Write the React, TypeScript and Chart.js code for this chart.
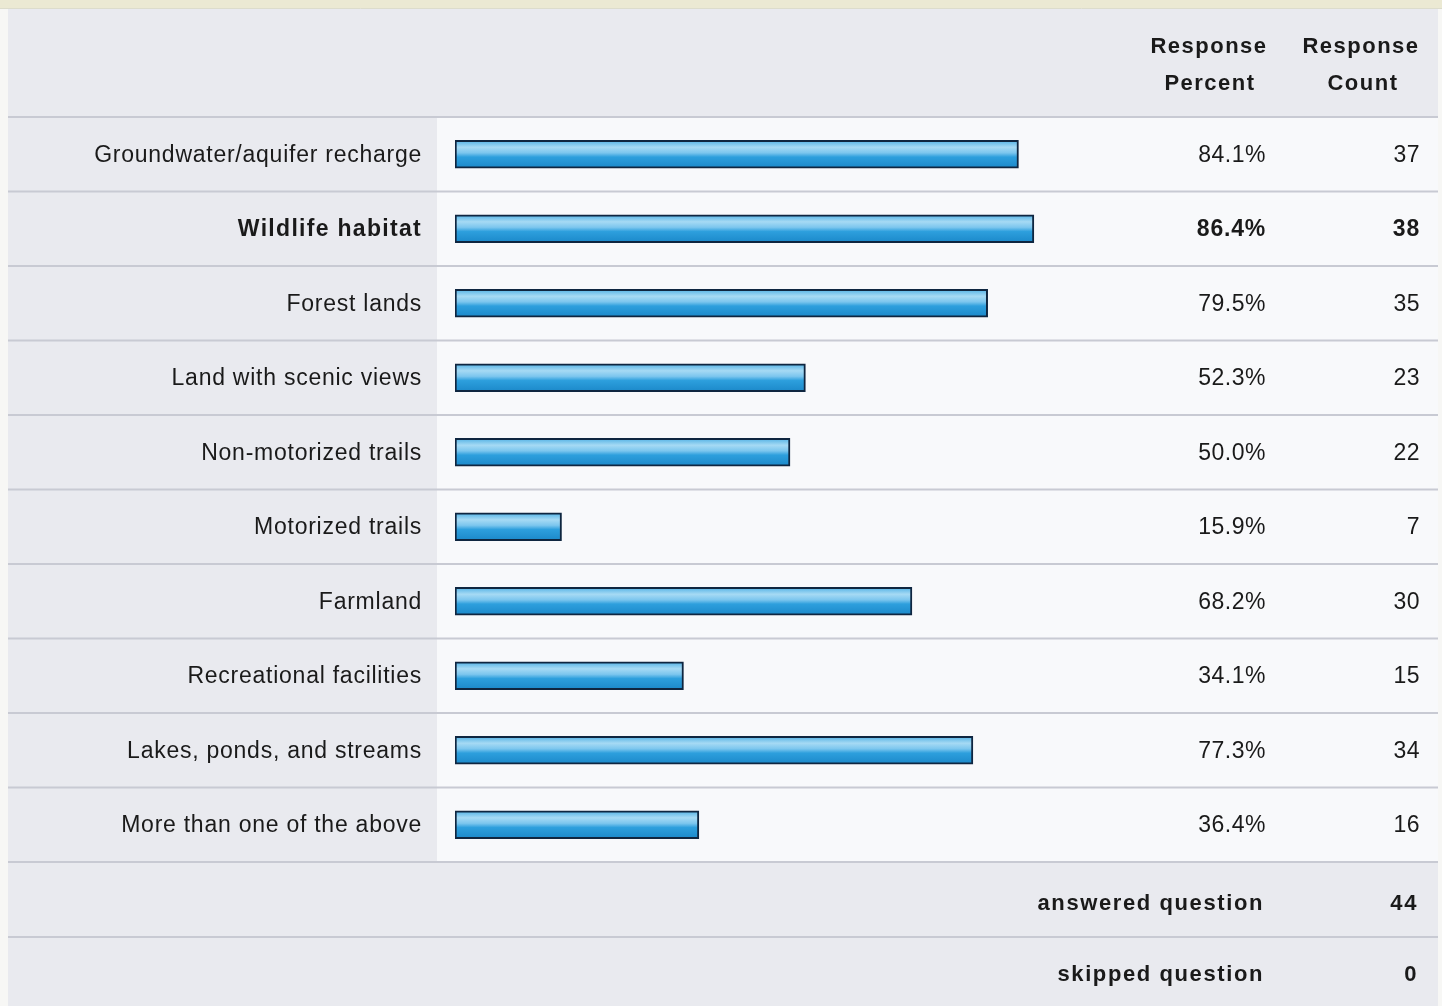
import React, { useEffect, useRef } from "react";
import { Chart, registerables } from "chart.js";

Chart.register(...registerables);

const categories = [
  "Groundwater/aquifer recharge",
  "Wildlife habitat",
  "Forest lands",
  "Land with scenic views",
  "Non-motorized trails",
  "Motorized trails",
  "Farmland",
  "Recreational facilities",
  "Lakes, ponds, and streams",
  "More than one of the above",
];
const percents = [84.1, 86.4, 79.5, 52.3, 50.0, 15.9, 68.2, 34.1, 77.3, 36.4];
const counts = [37, 38, 35, 23, 22, 7, 30, 15, 34, 16];
const highlightedRow = 1;
const headerPercent = ["Response", "Percent"];
const headerCount = ["Response", "Count"];
const footerLabels = ["answered question", "skipped question"];
const footerValues = [44, 0];
const xRange = [0, 100];

const FONT = '"Liberation Sans", Arial, Helvetica, sans-serif';

const tablePlugin = {
  id: "surveyTable",
  beforeDraw(chart: any) {
    const ctx = chart.ctx as CanvasRenderingContext2D;
    const { width, height, chartArea } = chart;
    const n = categories.length;
    const band = (chartArea.bottom - chartArea.top) / n;
    const L = 8;
    const R = 1438;
    ctx.save();
    ctx.fillStyle = "#f7f7f5";
    ctx.fillRect(0, 0, width, height);
    ctx.fillStyle = "#ebe9d3";
    ctx.fillRect(0, 0, width, 8);
    ctx.fillStyle = "#e9eaef";
    ctx.fillRect(L, 8, R - L, height - 8);
    ctx.fillStyle = "#f8f9fb";
    ctx.fillRect(chartArea.left - 18, chartArea.top, R - (chartArea.left - 18), chartArea.bottom - chartArea.top);
    ctx.strokeStyle = "#c8cad3";
    ctx.lineWidth = 2;
    const lines: number[] = [];
    for (let i = 0; i <= n; i++) lines.push(chartArea.top + i * band);
    lines.push(chartArea.bottom + 75);
    for (const y of lines) {
      ctx.beginPath();
      ctx.moveTo(L, y);
      ctx.lineTo(R, y);
      ctx.stroke();
    }
    ctx.strokeStyle = "#dcdccc";
    ctx.lineWidth = 1;
    ctx.beginPath();
    ctx.moveTo(0, 8.5);
    ctx.lineTo(width, 8.5);
    ctx.stroke();
    ctx.restore();
  },
  afterDraw(chart: any) {
    const ctx = chart.ctx as CanvasRenderingContext2D;
    const { chartArea } = chart;
    const yScale = chart.scales.y;
    const labelRight = chartArea.left - 33;
    const pctRight = 1266;
    const cntRight = 1420;
    ctx.save();
    ctx.fillStyle = "#1a1a1a";
    ctx.textBaseline = "middle";
    categories.forEach((cat, i) => {
      const y = yScale.getPixelForValue(i) + 1;
      const bold = i === highlightedRow;
      (ctx as any).letterSpacing = bold ? "1.3px" : "0.75px";
      ctx.font = `${bold ? "bold " : ""}23px ${FONT}`;
      ctx.textAlign = "right";
      ctx.fillText(cat, labelRight, y);
      (ctx as any).letterSpacing = bold ? "0.8px" : "0.5px";
      ctx.fillText(percents[i].toFixed(1) + "%", pctRight, y);
      ctx.fillText(String(counts[i]), cntRight, y);
    });
    // header
    (ctx as any).letterSpacing = "1.5px";
    ctx.font = `bold 22px ${FONT}`;
    ctx.textAlign = "center";
    ctx.fillText(headerPercent[0], 1209, 47);
    ctx.fillText(headerPercent[1], 1210, 84);
    ctx.fillText(headerCount[0], 1361, 47);
    ctx.fillText(headerCount[1], 1363, 84);
    // footer
    ctx.textAlign = "right";
    (ctx as any).letterSpacing = "1.6px";
    const fy = [chartArea.bottom + 42, chartArea.bottom + 113];
    footerLabels.forEach((lab, i) => {
      ctx.fillText(lab, 1264, fy[i]);
      ctx.fillText(String(footerValues[i]), 1418, fy[i]);
    });
    ctx.restore();
  },
};

export default function App() {
  const ref = useRef<HTMLCanvasElement | null>(null);
  useEffect(() => {
    if (!ref.current) return;
    const chart = new Chart(ref.current, {
      type: "bar",
      data: {
        labels: categories,
        datasets: [
          {
            data: percents,
            barThickness: 28,
            borderWidth: 2,
            borderColor: "#0f2640",
            borderSkipped: false,
            backgroundColor: (c: any) => {
              const ch = c.chart;
              const ys = ch.scales && ch.scales.y;
              if (!ch.chartArea || !ys || c.type !== "data") return "#2fa0dc";
              const yc = ys.getPixelForValue(c.dataIndex);
              const g = ch.ctx.createLinearGradient(0, yc - 14, 0, yc + 14);
              g.addColorStop(0, "#4fb0e4");
              g.addColorStop(0.25, "#a6daf4");
              g.addColorStop(0.45, "#7cc6ee");
              g.addColorStop(0.6, "#2d9fdd");
              g.addColorStop(1, "#1b88c9");
              return g;
            },
          },
        ],
      },
      options: {
        indexAxis: "y",
        responsive: false,
        animation: false,
        events: [],
        layout: { padding: { left: 455, right: 317, top: 117, bottom: 144 } },
        scales: {
          x: { display: false, min: xRange[0], max: xRange[1] },
          y: { display: false },
        },
        plugins: {
          legend: { display: false },
          tooltip: { enabled: false },
        },
      },
      plugins: [tablePlugin],
    } as any);
    return () => chart.destroy();
  }, []);
  return (
    <div style={{ position: "fixed", left: 0, top: 0, width: 1442, height: 1006 }}>
      <canvas ref={ref} width={1442} height={1006} style={{ width: 1442, height: 1006, display: "block" }} />
    </div>
  );
}
